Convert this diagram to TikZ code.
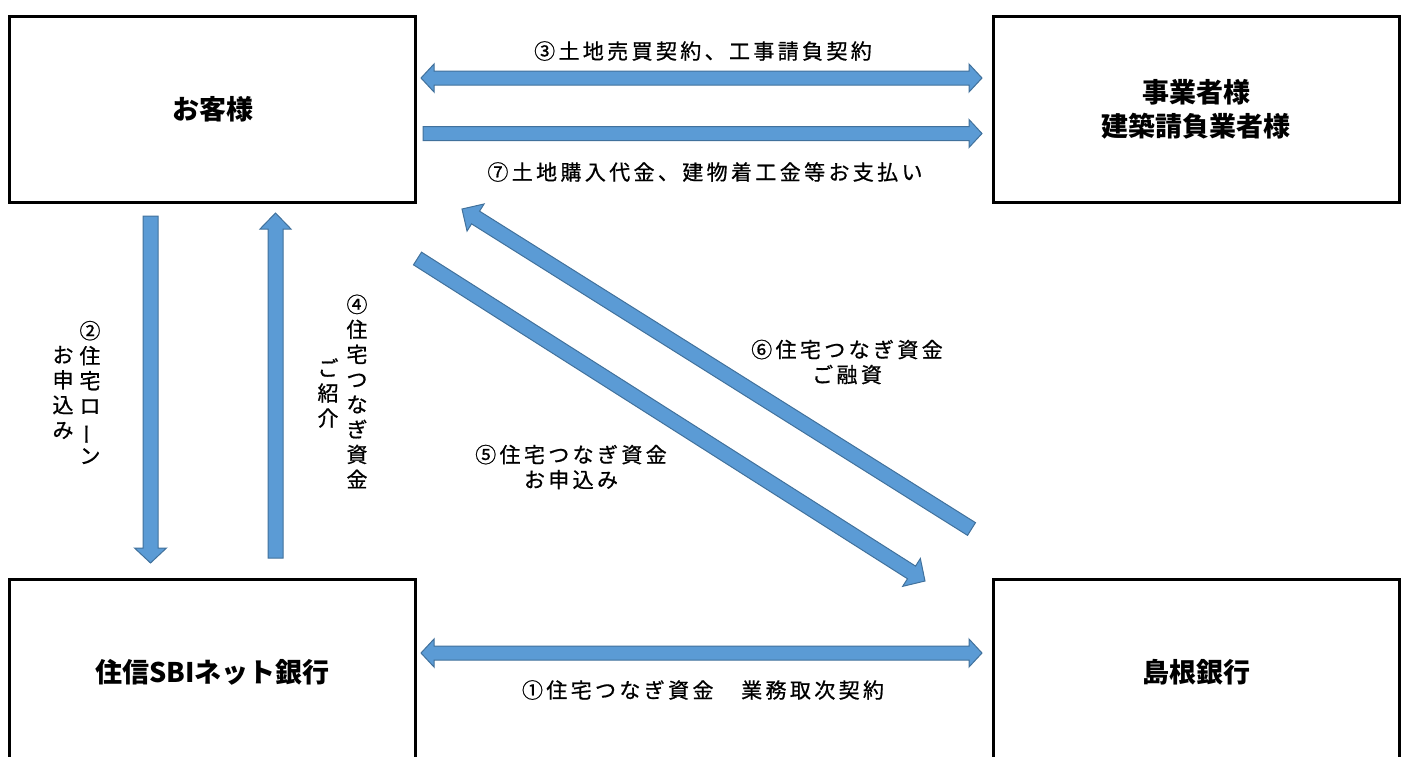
\documentclass[tikz,border=0pt]{standalone}
\usepackage{fontspec}
\setmainfont{Noto Sans CJK JP}
\newfontfamily\lblfont{Noto Sans CJK JP}[LetterSpace=16, FakeBold=0.8]
\newfontfamily\vertfont{Noto Sans CJK JP}[FakeBold=0.8]
\usetikzlibrary{calc}
\definecolor{arrowfill}{HTML}{5B9BD5}
\definecolor{arrowedge}{HTML}{41719C}
\newcommand{\shaft}{3.5pt}
\newcommand{\head}{7pt}
\newcommand{\tip}{6.5pt}
% block arrow: tail, tip, half shaft, half head, head length
\newcommand{\onearrow}[5]{%
\filldraw[arrowfill, draw=arrowedge, line width=0.5pt] let \p1=($(#2)-(#1)$), \n1={atan2(\y1,\x1)} in
($(#1)+(\n1+90:#3)$) -- ($(#2)+(\n1+180:#5)+(\n1+90:#3)$) -- ($(#2)+(\n1+180:#5)+(\n1+90:#4)$) -- (#2)
-- ($(#2)+(\n1+180:#5)+(\n1-90:#4)$) -- ($(#2)+(\n1+180:#5)+(\n1-90:#3)$) -- ($(#1)+(\n1-90:#3)$) -- cycle;}
\newcommand{\twoarrow}[5]{%
\filldraw[arrowfill, draw=arrowedge, line width=0.5pt] let \p1=($(#2)-(#1)$), \n1={atan2(\y1,\x1)} in
(#1) -- ($(#1)+(\n1:#5)+(\n1+90:#4)$) -- ($(#1)+(\n1:#5)+(\n1+90:#3)$) -- ($(#2)+(\n1+180:#5)+(\n1+90:#3)$)
-- ($(#2)+(\n1+180:#5)+(\n1+90:#4)$) -- (#2) -- ($(#2)+(\n1+180:#5)+(\n1-90:#4)$) -- ($(#2)+(\n1+180:#5)+(\n1-90:#3)$)
-- ($(#1)+(\n1:#5)+(\n1-90:#3)$) -- ($(#1)+(\n1:#5)+(\n1-90:#4)$) -- cycle;}

\begin{document}
\begin{tikzpicture}[x=0.5pt, y=-0.5pt,
  box/.style={draw, line width=1.5pt, minimum width=203pt, minimum height=93pt, inner sep=0pt, align=center, font=\bfseries\fontsize{13.5}{17}\selectfont},
  lbl/.style={align=center, inner sep=0pt, font=\lblfont\fontsize{10.5}{12.5}\selectfont},
  vlbl/.style={align=center, inner sep=0pt, font=\vertfont\fontsize{10.5}{12.5}\selectfont}]
\useasboundingbox (0,0) rectangle (1407,756);
\node[box] (1) at (212.5, 109.5) {お客様};
\node[box] (2) at (1196, 109.5) {事業者様\\建築請負業者様};
\node[box] (3) at (212.5, 672.5) {住信SBIネット銀行};
\node[box] (4) at (1196, 672.5) {島根銀行};
%1
\coordinate (s1) at (421, 653);
\coordinate (e1) at (982, 653);
\twoarrow{s1}{e1}{\shaft}{\head}{\tip}
\node[lbl] (l1) at (703, 690) {①住宅つなぎ資金　業務取次契約};
%2
\coordinate (s2) at (150.5, 216);
\coordinate (e2) at (150.5, 563);
\onearrow{s2}{e2}{3.75pt}{8pt}{7.5pt}
\node[vlbl] (l2a) at (90, 392.5) {②\\住\\宅\\ロ\\\rotatebox[origin=c]{90}{ー}\\ン};
\node[vlbl] (l2b) at (63, 392.5) {お\\申\\込\\み};
%3
\coordinate (s3) at (421, 78);
\coordinate (e3) at (982, 78);
\twoarrow{s3}{e3}{\shaft}{\head}{\tip}
\node[lbl] (l3) at (703, 51) {③土地売買契約、工事請負契約};
%4
\coordinate (s4) at (275.5, 558);
\coordinate (e4) at (275.5, 213);
\onearrow{s4}{e4}{3.75pt}{7.75pt}{8pt}
\node[vlbl] (l4a) at (357, 391.5) {④\\住\\宅\\つ\\な\\ぎ\\資\\金};
\node[vlbl] (l4b) at (328, 393) {ご\\紹\\介};
%5
\coordinate (s5) at (417.5, 258.5);
\coordinate (e5) at (925, 581);
\onearrow{s5}{e5}{3.75pt}{8.25pt}{8pt}
\node[lbl] (l5) at (571, 467) {⑤住宅つなぎ資金\\お申込み};
%6
\coordinate (s6) at (971.5, 529);
\coordinate (e6) at (462, 209);
\onearrow{s6}{e6}{3.75pt}{8pt}{8pt}
\node[lbl] (l6) at (847, 362) {⑥住宅つなぎ資金\\ご融資};
%7
\coordinate (s7) at (423, 133.5);
\coordinate (e7) at (982, 133.5);
\onearrow{s7}{e7}{\shaft}{\head}{\tip}
\node[lbl] (l7) at (705, 172) {⑦土地購入代金、建物着工金等お支払い};
\end{tikzpicture}
\end{document}
